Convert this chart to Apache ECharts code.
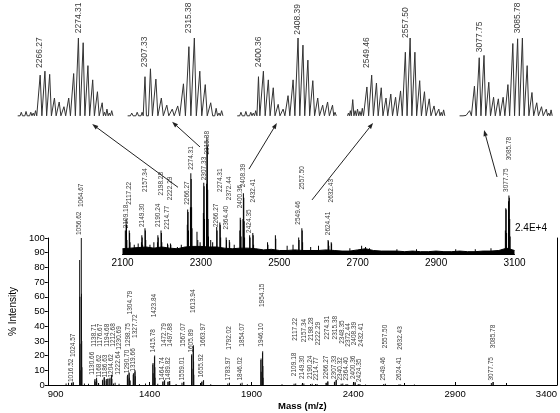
<!DOCTYPE html>
<html><head><meta charset="utf-8">
<script src="https://cdn.jsdelivr.net/npm/echarts/dist/echarts.min.js"></script>
<style>html,body{margin:0;padding:0;background:#fff}#c{width:560px;height:413px}</style>
</head><body><div id="c"></div>
<script>
const FONT = 'Liberation Sans, Arial, sans-serif';

// ---- main spectrum (% intensity) ----
const mainXTicks = [900, 1400, 1900, 2400, 2900, 3400];
const mainYTicks = [0, 10, 20, 30, 40, 50, 60, 70, 80, 90, 100];
const mainPeaks = [
 [990,1],[1002,1.5],[1016.52,1.5],[1017.5,1.2],[1024.57,2],[1025.57,1.6],
 [1056.62,85],[1057.62,60],[1058.62,28],[1059.6,10],
 [1064.67,100],[1065.67,62],[1066.67,30],[1067.67,12],
 [1080,1],[1100,0.8],
 [1130.66,3],[1131.66,4],[1132.66,2],[1138.71,4],[1139.71,5],[1140.7,3],[1150,1],
 [1168.62,3],[1169.6,3.5],[1176.67,5],[1177.67,5.5],[1178.7,3],
 [1186.63,3],[1187.6,4],[1194.68,4],[1195.7,4.5],
 [1204.62,4],[1205.6,5],[1212.68,6],[1213.7,7],[1214.7,4],
 [1222.64,1],[1230.69,1.5],[1250,0.8],
 [1290.70,6],[1291.7,7],[1292.7,4],[1298.75,8],[1299.75,8.5],[1300.7,5],[1304.79,3],
 [1319.66,7],[1320.66,8],[1321.7,4],[1327.72,9],[1328.72,10],[1329.7,6],
 [1350,0.6],[1380,1],
 [1415.78,14],[1416.78,15],[1417.8,8],[1423.84,19],[1424.84,20],[1425.8,12],[1426.8,5],[1440,0.8],
 [1464.74,2],[1465.7,2.5],[1472.79,3],[1473.8,3.2],[1489.82,2],[1490.8,2.3],[1497.88,2.5],[1498.9,2.8],
 [1530,0.6],[1559.01,1.5],[1567.07,2],[1568.07,2.2],
 [1605.89,20],[1606.89,21],[1607.9,11],[1613.94,26],[1614.94,27],[1615.9,16],[1616.9,7],
 [1655.92,2],[1656.9,2.4],[1663.97,3],[1664.97,3.2],[1700,0.5],
 [1783.97,1],[1792.02,1.5],[1846.02,1],[1854.07,1.5],[1880,0.5],
 [1946.10,17],[1947.1,18],[1948.1,9],[1954.15,22],[1955.15,23],[1956.2,13],[1957.2,5],
 [2050,0.5],[2109.18,0.8],[2117.22,1],[2149.30,0.8],[2157.34,1],[2190.24,0.7],[2198.28,0.9],[2214.77,0.6],[2222.29,0.7],
 [2266.27,1.4],[2267.3,1.5],[2274.31,2.4],[2275.3,2.3],
 [2307.33,2],[2308.3,2.2],[2315.38,3.2],[2316.4,3.5],
 [2340.32,0.9],[2348.35,1],[2364.40,0.6],[2372.44,0.5],[2400.36,1.1],[2408.39,1.8],[2409.4,1.7],[2424.35,0.6],[2432.41,0.7],
 [2460,0.4],[2549.46,0.6],[2557.50,0.9],[2624.41,0.5],[2632.43,0.4],[2700,0.3],
 [3077.75,1.3],[3085.78,2],[3086.78,2]
];
// [mass, label base (%), tier]
const mainLabels = [
 [1016.52,2,0],[1024.57,19,1],[1056.62,102,2],[1064.67,121,3],
 [1130.66,7,0],[1138.71,26,1],[1168.62,5,0],[1176.67,26,1],
 [1186.63,5,0],[1194.68,26,1],[1204.62,5,0],[1212.68,26,1],
 [1222.64,7,0],[1230.69,24,1],
 [1290.70,8,0],[1298.75,26,1],[1304.79,48,2],
 [1319.66,9,0],[1327.72,32,1],
 [1415.78,22,1],[1423.84,46,2],
 [1464.74,3,0],[1472.79,26,1],[1489.82,3,0],[1497.88,26,1],
 [1559.01,3,0],[1567.07,26,1],
 [1605.89,22,1],[1613.94,49,2],
 [1655.92,5,0],[1663.97,26,1],
 [1783.97,3,0],[1792.02,24,1],[1846.02,3,0],[1854.07,26,1],
 [1946.10,26,1],[1954.15,53,2],
 [2109.18,6,0],[2117.22,30,1],[2149.30,4,0],[2157.34,29,1],
 [2190.24,4,0],[2198.28,30,1],[2214.77,3,0],[2222.29,27,1],
 [2266.27,4,0],[2274.31,31,1],[2307.33,4,0],[2315.38,31,1],
 [2340.32,3,0],[2348.35,28,1],[2364.40,3,0],[2372.44,26,1],
 [2400.36,4,0],[2408.39,27,1],[2424.35,2,0],[2432.41,26,1],
 [2549.46,3,0],[2557.50,25,1],[2624.41,3,0],[2632.43,24,1],
 [3077.75,3,0],[3085.78,25,1]
];

// ---- inset 2100-3100 (relative units) ----
const insetXTicks = [2100, 2300, 2500, 2700, 2900, 3100];
const insetPeaks = [
 [2107.2,20],[2109.18,30],[2110.2,25],[2111.2,12],[2117.22,20],[2118.2,18],[2119.2,10],
 [2130,8],[2140,9],
 [2148.3,10],[2149.30,16],[2150.3,14],[2151.3,8],[2157.34,22],[2158.3,20],[2159.3,12],
 [2170,8],[2180,10],
 [2189.2,10],[2190.24,16],[2191.2,14],[2198.28,20],[2199.3,18],[2200.3,10],
 [2214.77,9],[2215.8,8],[2222.29,9],[2223.3,8],[2240,6],[2250,8],
 [2265.3,25],[2266.27,38],[2267.3,36],[2268.3,20],[2273.3,40],[2274.31,69],[2275.3,64],[2276.3,40],[2277.3,22],
 [2290,19],[2292,12],[2298,10],
 [2306.3,35],[2307.33,61],[2308.3,58],[2309.3,30],[2314.4,60],[2315.38,100],[2316.4,92],[2317.4,55],[2318.4,30],[2319.4,15],
 [2325,12],[2330,10],
 [2340.32,23],[2341.3,20],[2348.35,27],[2349.4,25],[2350.4,14],
 [2364.40,14],[2365.4,12],[2372.44,12],[2373.4,10],[2385,8],
 [2399.4,20],[2400.36,31],[2401.4,29],[2402.4,15],[2407.4,30],[2408.39,52],[2409.4,48],[2410.4,28],[2411.4,14],
 [2424.35,16],[2425.4,14],[2432.41,18],[2433.4,16],[2434.4,8],
 [2470,10],[2471,8],[2490,16],[2491,13],[2520,7],[2535,8],
 [2549.46,14],[2550.5,12],[2557.50,22],[2558.5,20],[2559.5,10],
 [2580,6],[2600,7],
 [2624.41,12],[2625.4,11],[2626.4,7],[2632.43,10],[2633.4,9],
 [2680,5],[2710,7],[2720,6],[2730,5],[2800,4],[2850,4],[2950,4],[3000,4],[3040,5],
 [3076.7,20],[3077.75,39],[3078.8,38],[3079.8,18],[3084.8,45],[3085.78,50],[3086.8,48],[3087.8,30],[3088.8,15]
];
const insetNoise = [
 [2100,4.5],[2120,5],[2140,5.5],[2160,6],[2180,5],[2200,6],[2220,5],[2240,4.5],[2260,6],[2280,6.5],
 [2300,6.5],[2320,6],[2340,6],[2360,5],[2380,4.5],[2400,5],[2420,5],[2440,4.5],[2460,3.5],[2480,4],
 [2500,3],[2520,3],[2540,3.5],[2560,3],[2580,3],[2600,3],[2620,3.5],[2640,3],[2660,2.5],[2680,2.5],
 [2700,3.5],[2720,4.5],[2740,3],[2760,2.5],[2780,2.5],[2800,2.5],[2820,2],[2840,2.5],[2860,2],[2880,2],
 [2900,2.5],[2920,2],[2940,2],[2960,2.5],[2980,2],[3000,2],[3020,2.5],[3040,2.5],[3060,3],[3080,5],[3100,3]
];
// [mass, label base, text]
const insetLabels = [
 [2109.18,22,'2109.18'],[2117.22,42,'2117.22'],[2149.30,23,'2149.30'],[2157.34,53,'2157.34'],
 [2190.24,23,'2190.24'],[2198.28,50,'2198.28'],[2214.77,21,'2214.77'],[2222.29,46,'2222.29'],
 [2266.27,42,'2266.27'],[2274.31,72,'2274.31'],[2307.33,63,'2307.33'],[2315.38,85,'2315.38'],
 [2340.32,23,'2266.27'],[2348.35,53,'2274.31'],[2364.40,21,'2364.40'],[2372.44,46,'2372.44'],
 [2400.36,39,'2400.36'],[2408.39,57,'2408.39'],[2424.35,18,'2424.35'],[2432.41,44,'2432.41'],
 [2549.46,25,'2549.46'],[2557.50,55,'2557.50'],[2624.41,16,'2624.41'],[2632.43,44,'2632.43'],
 [3077.75,53,'3077.75'],[3085.78,80,'3085.78']
];

// ---- zoomed isotope clusters (relative to tallest = 100) ----
const panel1Peaks = [[2261.8,4],[2262.3,6],[2262.8,3],[2263.3,7],[2263.8,4],[2264.3,6],[2264.8,5],[2265.3,8],
 [2266.27,53],[2267.27,58],[2268.27,54],[2269.27,24],[2270.27,19],[2271.27,13],[2272.27,24],[2273.31,55],
 [2274.31,100],[2275.31,94],[2276.31,65],[2277.31,47],[2278.31,32],[2279.31,18],[2279.8,6],[2280.31,10],[2280.8,5],[2281.31,8]];
const panel2Peaks = [[2304.4,3],[2304.9,5],[2305.4,2],[2305.9,6],[2306.4,4],[2306.8,6],
 [2307.33,51],[2308.33,61],[2309.33,48],[2310.33,24],[2311.33,15],[2312.33,10],[2313.33,14],[2314.38,42],
 [2315.38,89],[2316.38,100],[2317.38,58],[2318.38,41],[2319.38,18],[2320.38,11],[2320.9,5],[2321.38,8]];
const panel3Peaks = [[2396.3,4],[2396.8,6],[2397.3,3],[2397.8,7],[2398.3,4],[2398.8,6],[2399.3,5],[2399.8,8],
 [2400.36,51],[2401.36,58],[2402.36,47],[2403.36,37],[2404.36,16],[2405.36,10],[2406.36,27],[2407.39,47],
 [2408.39,100],[2409.39,91],[2410.39,72],[2411.39,46],[2412.39,24],[2413.39,15],[2414.39,19],[2415.39,15],[2415.9,6]];
const panel4Peaks = [[2545.6,5],[2546.0,8],[2546.5,22],[2547.0,8],[2547.5,10],[2548.0,7],[2548.5,11],
 [2549.46,38],[2550.46,53],[2551.46,43],[2552.46,37],[2553.46,24],[2554.46,29],[2555.46,25],[2556.50,33],
 [2557.50,82],[2558.50,100],[2559.50,82],[2560.50,46],[2561.50,32],[2562.50,23],[2563.50,14],[2564.50,10],[2565.0,6],[2565.50,9]];
const panel5Peaks = [[3074.0,1],[3075.0,2],[3075.75,8],
 [3076.75,39],[3077.75,75],[3078.75,78],[3079.75,44],[3080.75,25],[3081.75,23],[3082.75,25],[3083.75,41],
 [3084.78,93],[3085.78,99],[3086.78,100],[3087.78,65],[3088.78,31],[3089.78,18],[3090.78,13],[3091.78,10],[3092.3,5],[3092.78,9]];
const panelPeaks = [panel1Peaks, panel2Peaks, panel3Peaks, panel4Peaks, panel5Peaks];
const panelLabels = [
 [[2266.27,62],[2274.31,106]],
 [[2307.33,63],[2315.38,106]],
 [[2400.36,63],[2408.39,104]],
 [[2549.46,62],[2557.50,100]],
 [[3077.75,82],[3085.78,106]]
];
const panelRanges = [[2261.4,2282.0],[2304.03,2322.0],[2396.0,2416.3],[2545.3,2566.0],[3073.1,3093.6]];
const panelBoxes = [[17,98],[127,98],[237,100],[347,99],[457,98]];

// arrows: from inset point [m, level] to panel k (0-based) point [m, level]
const arrows = [
 [[2241.6,57],0,[2277.2,-9]],
 [[2297.7,91.5],1,[2312.3,-6]],
 [[2422.7,72.6],2,[2404.1,-7.6]],
 [[2583.4,46.2],3,[2550.75,-7.6]],
 [[3055.4,65.8],4,[3078.76,-16.5]]
];

// spread labels of one tier so neighbours do not overlap
function spread(list, gap) {
  list.sort((a,b)=>a.m-b.m);
  let groups = list.map(it=>({items:[it], c:it.m}));
  let changed = true;
  while (changed) {
    changed = false;
    for (let i=0;i<groups.length-1;i++) {
      const a=groups[i], b=groups[i+1];
      const aEnd = a.c + (a.items.length-1)*gap/2;
      const bStart = b.c - (b.items.length-1)*gap/2;
      if (bStart - aEnd < gap) {
        const items = a.items.concat(b.items);
        const c = items.reduce((s,o)=>s+o.m,0)/items.length;
        groups.splice(i,2,{items, c});
        changed = true; break;
      }
    }
  }
  groups.forEach(g=>g.items.forEach((o,k)=>{o.x = g.c + (k-(g.items.length-1)/2)*gap;}));
}
const MAIN_L = 28, MAIN_R = 3;
const pxPerDa = (560-MAIN_L-MAIN_R)/(3400-900);
const tiers = {};
mainLabels.forEach(([m,b,t])=>{(tiers[t]=tiers[t]||[]).push({m,b});});
Object.values(tiers).forEach(l=>spread(l, 6.6/pxPerDa));
const mainLabelData = [].concat(...Object.values(tiers)).map(o=>[o.x,o.b,o.m.toFixed(2)]);

function profile(peaks) {
  const pts = [];
  peaks.forEach(([m,h],i)=>{
    const prev = i>0 ? peaks[i-1][0] : m-1, next = i<peaks.length-1 ? peaks[i+1][0] : m+1;
    const hw = Math.min(0.36, (m-prev)/2, (next-m)/2);
    pts.push([m-hw,1.5],[m,h],[m+hw,1.5]);
  });
  return pts;
}

function labelSeries(xi, yi, data, size) {
  return {type:'scatter', xAxisIndex:xi, yAxisIndex:yi, data, symbolSize:0.1, clip:false, silent:true,
    itemStyle:{color:'rgba(0,0,0,0)'}, z:5,
    label:{show:true, position:[0,0], rotate:90, align:'left', verticalAlign:'middle',
      fontSize:size, fontFamily:FONT, color:'#000', formatter:p=>p.value[2]}};
}
const plain = v => String(v);

const chart = echarts.init(document.getElementById('c'), null, {renderer:'canvas'});
const grids = [
  {left:MAIN_L, right:MAIN_R, top:238, bottom:28},
  {left:122.5, right:45.5, top:137, bottom:159}
];
panelBoxes.forEach(([l,w])=>grids.push({left:l, width:w, top:38, bottom:296}));

const xAxes = [
  {gridIndex:0, type:'value', min:900, max:3400, interval:500,
   axisLine:{lineStyle:{color:'#000',width:1}}, axisTick:{show:true, inside:true, length:3, lineStyle:{color:'#000'}},
   minorTick:{show:true, splitNumber:2, length:2, lineStyle:{color:'#000'}},
   axisLabel:{color:'#000', fontSize:9.5, fontFamily:FONT, margin:4, alignMinLabel:'left', alignMaxLabel:'right', formatter:plain},
   splitLine:{show:false},
   name:'Mass (m/z)', nameLocation:'middle', nameGap:16, nameTextStyle:{color:'#000', fontSize:9.5, fontFamily:FONT, fontWeight:'bold'}},
  {gridIndex:1, type:'value', min:2100, max:3100, interval:200,
   axisLine:{lineStyle:{color:'#000',width:1}}, axisTick:{show:false},
   axisLabel:{color:'#000', fontSize:10, fontFamily:FONT, margin:4, formatter:plain}, splitLine:{show:false}}
];
panelRanges.forEach(([a,b],i)=>xAxes.push({gridIndex:i+2, type:'value', min:a, max:b, show:false}));
const yAxes = [
  {gridIndex:0, type:'value', min:0, max:100, interval:10,
   axisLine:{show:true, lineStyle:{color:'#000'}}, axisTick:{show:true, length:3, lineStyle:{color:'#000'}},
   axisLabel:{color:'#000', fontSize:9.5, fontFamily:FONT, margin:3, formatter:plain}, splitLine:{show:false},
   name:'% Intensity', nameLocation:'middle', nameGap:17, nameTextStyle:{color:'#000', fontSize:10, fontFamily:FONT}},
  {gridIndex:0, type:'value', min:0, max:100, position:'right',
   axisLine:{show:true, lineStyle:{color:'#000'}}, axisTick:{show:false}, axisLabel:{show:false}, splitLine:{show:false}},
  {gridIndex:1, type:'value', min:0, max:100, show:false}
];
panelRanges.forEach((r,i)=>yAxes.push({gridIndex:i+2, type:'value', min:0, max:100, show:false}));

const series = [
  {type:'bar', xAxisIndex:0, yAxisIndex:0, data:mainPeaks, barWidth:1, itemStyle:{color:'#111'}, silent:true},
  labelSeries(0,0,mainLabelData,6.5),
  {type:'line', xAxisIndex:1, yAxisIndex:2, data:insetNoise, showSymbol:false, silent:true,
   lineStyle:{color:'#000', width:1}, areaStyle:{color:'#000', opacity:1}},
  {type:'bar', xAxisIndex:1, yAxisIndex:2, data:insetPeaks, barWidth:1, itemStyle:{color:'#000'}, silent:true},
  labelSeries(1,2,insetLabels,6.5)
];
panelPeaks.forEach((pk,i)=>{
  series.push({type:'line', xAxisIndex:i+2, yAxisIndex:i+3, data:profile(pk), showSymbol:false, silent:true,
    lineStyle:{color:'#333', width:1}});
  series.push(labelSeries(i+2, i+3, panelLabels[i].map(([m,b])=>[m,b,m.toFixed(2)]), 8.5));
});

chart.setOption({
  animation:false, backgroundColor:'#fff',
  textStyle:{fontFamily:FONT},
  grid:grids, xAxis:xAxes, yAxis:yAxes, series
});

const g = [{type:'text', id:'sc', right:13, top:223, silent:true, z:100, style:{text:'2.4E+4', fontSize:10, fontFamily:FONT, fill:'#000'}}];
arrows.forEach(([pa,k,pb],i)=>{
  const s = chart.convertToPixel({xAxisIndex:1, yAxisIndex:2}, pa);
  const e = chart.convertToPixel({xAxisIndex:k+2, yAxisIndex:k+3}, pb);
  const dx = e[0]-s[0], dy = e[1]-s[1], L = Math.hypot(dx,dy), ux = dx/L, uy = dy/L;
  const bx = e[0]-ux*6, by = e[1]-uy*6, px = -uy*2.2, py = ux*2.2;
  g.push({type:'line', id:'al'+i, silent:true, z:100, shape:{x1:s[0], y1:s[1], x2:bx, y2:by}, style:{stroke:'#222', lineWidth:1}});
  g.push({type:'polygon', id:'ah'+i, silent:true, z:100, shape:{points:[[e[0],e[1]],[bx+px,by+py],[bx-px,by-py]]}, style:{fill:'#222'}});
});
chart.setOption({graphic:{elements:g}});
</script></body></html>
